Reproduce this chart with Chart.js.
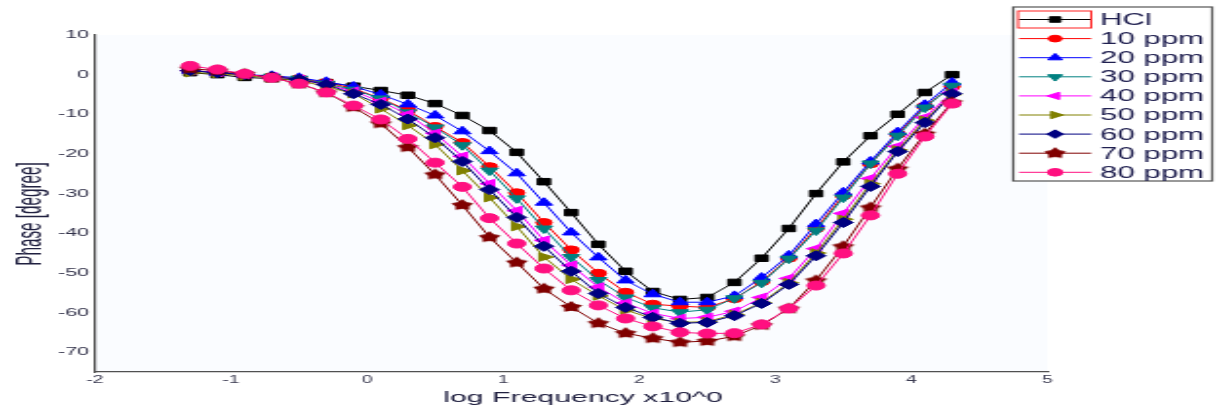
<!DOCTYPE html>
<html>
<head>
<meta charset="utf-8">
<script src="https://cdn.jsdelivr.net/npm/chart.js@4.4.1/dist/chart.umd.min.js"></script>
<style>
  html, body { margin: 0; padding: 0; background: #fff; overflow: hidden; }
  /* the original picture is stretched sideways, so the chart is drawn narrow and widened */
  #wrap { width: 624px; height: 410px; transform: scaleX(1.9503); transform-origin: 0 0; }
</style>
</head>
<body>
<div id="wrap"><canvas id="myChart" width="624" height="410"></canvas></div>
<script>
var logFreq = [-1.3, -1.1, -0.9, -0.7, -0.5, -0.3, -0.1, 0.1, 0.3, 0.5, 0.7, 0.9, 1.1, 1.3, 1.5,
               1.7, 1.9, 2.1, 2.3, 2.5, 2.7, 2.9, 3.1, 3.3, 3.5, 3.7, 3.9, 4.1, 4.3];

var hcl   = [0.5, 0, -0.7, -1, -1.4, -2, -2.9, -4, -5.2, -7.3, -10.3, -14.1, -19.6, -27, -34.8,
             -42.8, -49.6, -54.7, -56.7, -56.2, -52.4, -46.3, -38.8, -30, -22, -15.4, -10, -4.5, 0];
var ppm10 = [1, 0.6, 0, -0.5, -1, -2, -3.5, -6, -9, -13.1, -17.1, -23.2, -29.8, -37.3, -44.2,
             -50.1, -54.9, -57.9, -58.4, -58.7, -56.5, -52.2, -46.3, -38.8, -30.5, -22.5, -15, -8, -3];
var ppm20 = [1, 0.5, 0, -0.3, -0.8, -1.8, -3, -5, -7.5, -10.3, -14.3, -19.3, -24.9, -32.3, -39.8,
             -46.1, -51.9, -55.4, -57.4, -57.4, -55.8, -51.2, -45.6, -37.7, -29.7, -21.9, -14.5, -7.6, -2];
var ppm30 = [1, 0.5, 0, -0.5, -1, -2.3, -3.8, -6, -9.5, -13.3, -17.8, -24.2, -31.2, -38.8, -46,
             -51.8, -56.2, -58.8, -59.9, -59.3, -56.4, -52.5, -46.4, -39.3, -31, -22.4, -15.4, -8.3, -2.8];
var ppm40 = [1, 0.6, 0, -0.5, -1.2, -2.5, -4.2, -6.8, -10, -14.8, -20.6, -27.5, -34.3, -41.8, -48.1,
             -53.6, -57.6, -60.2, -61.5, -61.2, -59.7, -56.2, -51.4, -43.9, -35, -26.2, -18.1, -10.8, -4.5];
var ppm50 = [0.5, 0.3, -0.3, -0.8, -1.5, -3, -4.8, -8.6, -12.8, -17.6, -24.2, -31, -38.3, -46, -51.6,
             -55.8, -59.4, -61.5, -62.5, -62.3, -60.5, -57.5, -52.5, -45, -36.5, -27.5, -19, -11.5, -5];
var ppm60 = [1, 0.5, 0, -0.5, -1.2, -2.5, -4.8, -7.5, -11.2, -15.9, -21.9, -29, -36, -43.3, -49.6,
             -55.2, -58.7, -61.2, -62.7, -62.5, -60.8, -57.7, -52.9, -45.7, -37.3, -28.2, -19.4, -12.1, -4.8];
var ppm70 = [1.5, 1, 0.2, -0.8, -2.3, -4.5, -8.2, -12.3, -18.3, -25.2, -32.9, -41, -47.4, -54, -58.6,
             -62.7, -65.2, -66.5, -67.5, -67.2, -66, -63.2, -59, -51.9, -43.3, -33.5, -23.7, -14.9, -7];
var ppm80 = [2.2, 1.3, 0.2, -0.8, -2.3, -4.5, -7.8, -11.3, -16.2, -22.2, -28.3, -36.2, -42.6, -48.9, -54.4,
             -58.2, -61.5, -63.5, -65, -65.3, -65.2, -63, -59, -53.2, -45.1, -35.5, -25, -15.6, -7.3];

var seriesNames = ["HCl", "10 ppm", "20 ppm", "30 ppm", "40 ppm", "50 ppm", "60 ppm", "70 ppm", "80 ppm"];
var xTickValues = [-2, -1, 0, 1, 2, 3, 4, 5];
var yTickValues = [10, 0, -10, -20, -30, -40, -50, -60, -70];
var xTitle = "log Frequency x10^0";
var yTitle = "Phase [degree]";

var allSeries = [hcl, ppm10, ppm20, ppm30, ppm40, ppm50, ppm60, ppm70, ppm80];
var colors = ["#000000", "#ff0000", "#0000ff", "#008080", "#ff00ff", "#808000", "#000080", "#800000", "#ff1080"];

// filled star for 70 ppm (chart.js only has an outline star)
function makeStar(color, r) {
  var c = document.createElement("canvas");
  c.width = c.height = 2 * r + 2;
  var g = c.getContext("2d");
  g.fillStyle = color;
  g.beginPath();
  for (var k = 0; k < 10; k++) {
    var a = -Math.PI / 2 + k * Math.PI / 5;
    var rr = k % 2 ? r * 0.62 : r;
    g.lineTo(r + 1 + rr * Math.cos(a), r + 1 + rr * Math.sin(a));
  }
  g.closePath();
  g.fill();
  return c;
}

var markers = [
  {style: "rect", rot: 0, r: 4.6},
  {style: "circle", rot: 0, r: 4},
  {style: "triangle", rot: 0, r: 5},
  {style: "triangle", rot: 180, r: 5},
  {style: "triangle", rot: 270, r: 5},
  {style: "triangle", rot: 90, r: 5},
  {style: "rectRot", rot: 0, r: 5},
  {style: makeStar(colors[7], 6), rot: 0, r: 5},
  {style: "circle", rot: 0, r: 4.5}
];

var datasets = allSeries.map(function (vals, i) {
  return {
    label: seriesNames[i],
    data: logFreq.map(function (x, j) { return {x: x, y: vals[j]}; }),
    borderColor: colors[i],
    backgroundColor: colors[i],
    borderWidth: 1,
    pointStyle: markers[i].style,
    pointRotation: markers[i].rot,
    pointRadius: markers[i].r,
    pointBorderWidth: 1,
    fill: false,
    tension: 0,
    order: allSeries.length - i
  };
});

var plotBg = {
  id: "plotBg",
  beforeDraw: function (chart) {
    var a = chart.chartArea, ctx = chart.ctx;
    ctx.save();
    ctx.fillStyle = "#fafcff";
    ctx.fillRect(a.left, a.top, a.right - a.left, a.bottom - a.top);
    ctx.restore();
  }
};

// axis titles, placed where the original has them
var axisTitles = {
  id: "axisTitles",
  afterDraw: function (chart) {
    var ctx = chart.ctx;
    ctx.save();
    ctx.fillStyle = "#202040";
    ctx.textAlign = "center";
    ctx.textBaseline = "middle";
    ctx.font = "15.5px 'Liberation Sans', Arial, sans-serif";
    ctx.fillText(xTitle, 299, 398);
    ctx.translate(16, 214);
    ctx.rotate(-Math.PI / 2);
    ctx.scale(0.87, 1);
    ctx.font = "17.5px 'Liberation Sans', Arial, sans-serif";
    ctx.fillText(yTitle, 0, 0);
    ctx.restore();
  }
};

var boxLegend = {
  id: "boxLegend",
  afterDraw: function (chart) {
    var ctx = chart.ctx;
    var x0 = 519.5, y0 = 7, w = 102, h = 174;
    ctx.save();
    ctx.fillStyle = "#ffffff";
    ctx.fillRect(x0, y0, w, h);
    ctx.strokeStyle = "#555555";
    ctx.lineWidth = 1.2;
    ctx.strokeRect(x0, y0, w, h);
    chart.data.datasets.forEach(function (ds, i) {
      var cy = 19.5 + i * 19.1;
      ctx.strokeStyle = ds.borderColor;
      ctx.lineWidth = 1;
      ctx.beginPath();
      ctx.moveTo(522.5, cy);
      ctx.lineTo(559.5, cy);
      ctx.stroke();
      ctx.fillStyle = ds.backgroundColor;
      Chart.helpers.drawPoint(ctx, {
        pointStyle: ds.pointStyle, rotation: ds.pointRotation,
        radius: ds.pointRadius * 0.85, borderWidth: 1
      }, 541, cy);
      if (i === 0) {
        ctx.strokeStyle = "#ff2020";
        ctx.lineWidth = 1;
        ctx.strokeRect(522, cy - 8.5, 37.5, 17);
      }
      ctx.fillStyle = "#202050";
      ctx.font = "16px 'Liberation Sans', Arial, sans-serif";
      ctx.textBaseline = "middle";
      ctx.textAlign = "left";
      ctx.fillText(ds.label, 564, cy + 1);
    });
    ctx.restore();
  }
};

new Chart("myChart", {
  type: "line",
  data: {datasets: datasets},
  plugins: [plotBg, axisTitles, boxLegend],
  options: {
    responsive: false,
    animation: false,
    devicePixelRatio: 1,
    events: [],
    layout: {padding: {left: 0, top: 35, right: 87, bottom: 0}},
    plugins: {legend: {display: false}, tooltip: {enabled: false}},
    scales: {
      x: {
        type: "linear",
        min: -2,
        max: 5,
        afterBuildTicks: function (s) { s.ticks = xTickValues.map(function (v) { return {value: v}; }); },
        afterFit: function (s) { s.height = 38; },
        grid: {display: false, drawTicks: false},
        border: {display: true, color: "#505050", width: 1.2},
        ticks: {autoSkip: false, maxRotation: 0, padding: 2, color: "#3a3a50",
                font: {size: 10, family: "'Liberation Sans', Arial, sans-serif"}},
        title: {display: false}
      },
      y: {
        type: "linear",
        min: -75,
        max: 10,
        afterBuildTicks: function (s) { s.ticks = yTickValues.map(function (v) { return {value: v}; }); },
        afterFit: function (s) { s.width = 48.7; },
        grid: {display: false, drawTicks: false},
        border: {display: true, color: "#505050", width: 1.2},
        ticks: {autoSkip: false, padding: 3, color: "#303048",
                font: {size: 11, family: "'Liberation Sans', Arial, sans-serif"}},
        title: {display: false}
      }
    }
  }
});
</script>
</body>
</html>
